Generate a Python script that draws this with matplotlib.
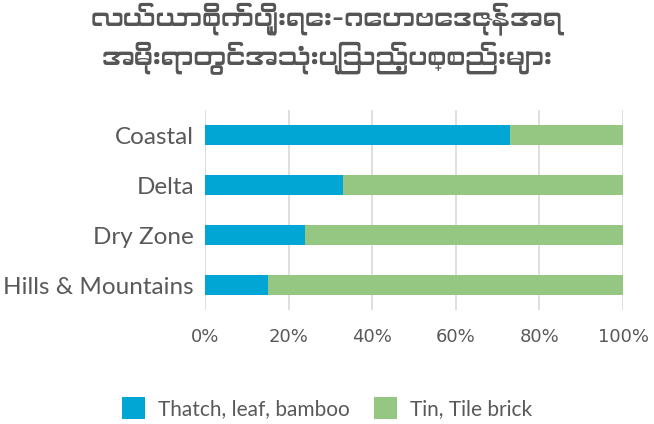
import numpy as np
import matplotlib
matplotlib.use("Agg")
import matplotlib.pyplot as plt
from matplotlib import font_manager

# roof material share by agro-ecological zone (%)
zones = ["Coastal", "Delta", "Dry Zone", "Hills & Mountains"]
thatch = [73, 33, 24, 15]
tin_tile = [27, 67, 76, 85]
series_names = ["Thatch, leaf, bamboo", "Tin, Tile brick"]
x_ticks = [0, 20, 40, 60, 80, 100]
x_ticklabels = ["0%", "20%", "40%", "60%", "80%", "100%"]
title = "လယ်ယာစိုက်ပျိုးရေး-ဂေဟဗေဒဇုန်အရ\nအမိုးရာတွင်အသုံးပြုသည့်ပစ္စည်းများ"

# pick an installed regular-weight font with Myanmar glyphs
mm_fonts = [f for f in font_manager.fontManager.ttflist
            if "myanmar" in f.name.lower() or "padauk" in f.name.lower()]
mm_fonts.sort(key=lambda f: (abs(int(f.weight) - 400) if str(f.weight).isdigit() else 500,
                             "ui" in f.name.lower()))
if mm_fonts:
    title_prop = font_manager.FontProperties(fname=mm_fonts[0].fname, size=19)
else:
    title_prop = font_manager.FontProperties(family=["Noto Sans", "DejaVu Sans"], size=19)

blue = "#02A6D4"
green = "#96C782"
grey = "#595959"

fig = plt.figure(figsize=(6.54, 4.24), dpi=100)
ax = fig.add_axes([205 / 654, 1 - 310 / 424, 418 / 654, 200 / 424])

y = np.arange(len(zones))
ax.barh(y, thatch, height=0.4, color=blue, label=series_names[0])
ax.barh(y, tin_tile, left=thatch, height=0.4, color=green, label=series_names[1])

ax.set_xlim(0, 100)
ax.set_ylim(len(zones) - 0.5, -0.5)
ax.set_yticks(y)
ax.set_yticklabels(zones, family="Lato", fontsize=17.5, color=grey)
ax.set_xticks(x_ticks)
ax.set_xticklabels(x_ticklabels, family="DejaVu Sans", fontsize=13, color=grey)
ax.tick_params(axis="both", length=0)
ax.tick_params(axis="x", pad=13)
ax.tick_params(axis="y", pad=8)
for s in ax.spines.values():
    s.set_visible(False)
ax.grid(axis="x", color="#D9D9D9", linewidth=1.2)
ax.set_axisbelow(True)

fig.text(0.5, 1 - 38 / 424, title, ha="center", va="center",
         fontproperties=title_prop, color="#555555", linespacing=1.25)

fig.legend(loc="center", bbox_to_anchor=(0.5, 1 - 408 / 424), ncol=2,
           frameon=False, prop={"family": "Lato", "size": 15},
           labelcolor=grey, handlelength=1.1, handleheight=1.3,
           handletextpad=0.6, columnspacing=1.2)

fig.savefig("out.png", dpi=100)
